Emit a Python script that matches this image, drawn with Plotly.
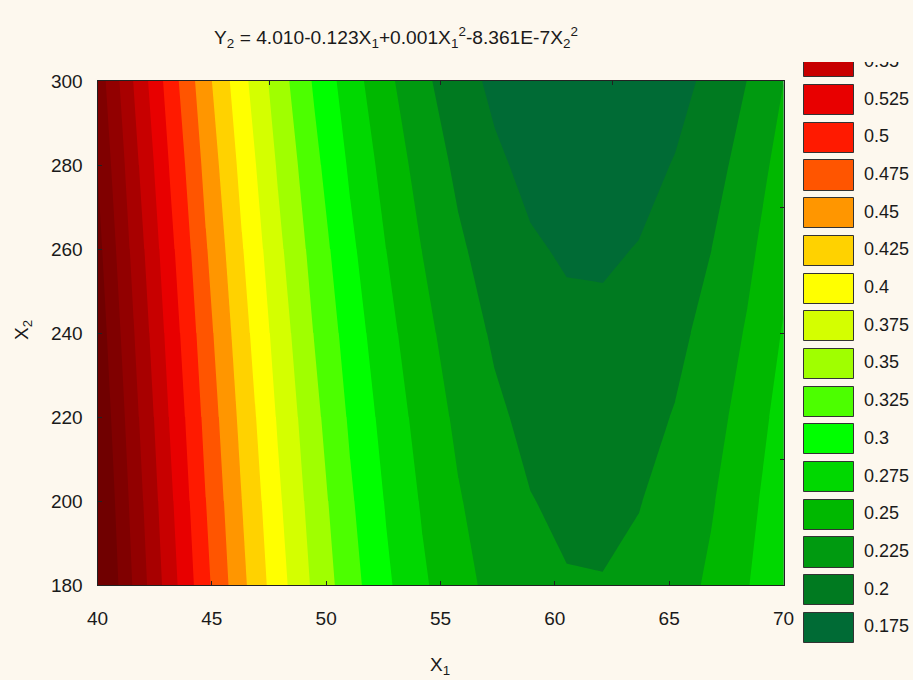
import plotly.graph_objects as go

# ---- data ----
# grid nodes of the fitted surface (the contour kinks sit on these X1 lines)
x1_values = [40, 41.579, 43.158, 44.737, 46.316, 47.895, 49.474, 51.053, 52.632, 54.211,
             55.789, 57.368, 58.947, 60.526, 62.105, 63.684, 65.263, 66.842, 68.421, 70]
x2_values = [180, 200, 220, 240, 260, 280, 300]
# z (Y2) estimated on the grid, one row per X2 value
z_values = [
    [0.6629, 0.5975, 0.5371, 0.4817, 0.4312, 0.3858, 0.3453, 0.3098, 0.2793, 0.2538,
     0.2333, 0.2177, 0.2072, 0.2016, 0.2010, 0.2054, 0.2148, 0.2292, 0.2486, 0.2729],
    [0.6566, 0.5912, 0.5307, 0.4753, 0.4249, 0.3794, 0.3389, 0.3035, 0.2730, 0.2474,
     0.2269, 0.2114, 0.2008, 0.1953, 0.1947, 0.1991, 0.2085, 0.2228, 0.2422, 0.2666],
    [0.6495, 0.5841, 0.5237, 0.4683, 0.4178, 0.3724, 0.3319, 0.2964, 0.2659, 0.2404,
     0.2199, 0.2044, 0.1938, 0.1882, 0.1876, 0.1921, 0.2014, 0.2158, 0.2352, 0.2595],
    [0.6418, 0.5764, 0.5160, 0.4606, 0.4101, 0.3647, 0.3242, 0.2887, 0.2582, 0.2327,
     0.2122, 0.1967, 0.1861, 0.1805, 0.1800, 0.1844, 0.1938, 0.2081, 0.2275, 0.2518],
    [0.6335, 0.5681, 0.5077, 0.4522, 0.4018, 0.3563, 0.3159, 0.2804, 0.2499, 0.2244,
     0.2038, 0.1883, 0.1778, 0.1722, 0.1716, 0.1760, 0.1854, 0.1998, 0.2191, 0.2435],
    [0.6245, 0.5590, 0.4986, 0.4432, 0.3928, 0.3473, 0.3068, 0.2713, 0.2408, 0.2153,
     0.1948, 0.1793, 0.1687, 0.1632, 0.1626, 0.1670, 0.1764, 0.1907, 0.2101, 0.2345],
    [0.6148, 0.5493, 0.4889, 0.4335, 0.3831, 0.3376, 0.2971, 0.2616, 0.2311, 0.2056,
     0.1851, 0.1696, 0.1590, 0.1535, 0.1529, 0.1573, 0.1667, 0.1810, 0.2004, 0.2248],
]
level_start = 0.175
level_end = 0.625
level_step = 0.025
# colour of each band, lowest first (<0.175 ... >0.625)
band_colors = [
    "#006b35", "#007a20", "#009a10", "#00b800", "#00d800", "#00ff00",
    "#4cff00", "#a0ff00", "#d4ff00", "#ffff00", "#ffd200", "#ff9600",
    "#ff5500", "#ff1a00", "#e80000", "#c80000", "#a80000", "#920000",
    "#800000", "#700000",
]
legend_labels = ["0.175", "0.2", "0.225", "0.25", "0.275", "0.3", "0.325", "0.35",
                 "0.375", "0.4", "0.425", "0.45", "0.475", "0.5", "0.525", "0.55"]
x_ticks = [40, 45, 50, 55, 60, 65, 70]
y_ticks = [180, 200, 220, 240, 260, 280, 300]
x_top_ticks = [40, 47.5, 55, 62.5, 70]
y_right_ticks = [180, 210, 240, 270, 300]

W, H = 913, 680
BG = "#fdf8ee"
FONT = "Liberation Sans, Arial, sans-serif"
TXT = "#1a1a1a"

nb = len(band_colors)
colorscale = [[i / (nb - 1), c] for i, c in enumerate(band_colors)]

fig = go.Figure()
fig.add_trace(go.Contour(
    x=x1_values, y=x2_values, z=z_values,
    autocontour=False,
    contours=dict(start=level_start, end=level_end, size=level_step,
                  coloring="fill", showlines=False),
    colorscale=colorscale, showscale=False,
    line=dict(width=0, smoothing=0), hoverinfo="skip",
))
# invisible trace to carry the top / right tick axes
fig.add_trace(go.Scatter(x=[x1_values[0], x1_values[-1]], y=[x2_values[0], x2_values[-1]],
                         mode="markers", marker=dict(size=1, opacity=0),
                         xaxis="x3", yaxis="y3", hoverinfo="skip", showlegend=False))

legend_idx = list(range(len(legend_labels)))
legend_colors = band_colors[:len(legend_labels)]
fig.add_trace(go.Bar(
    x=[1] * len(legend_idx), y=legend_idx, base=0, orientation="h", width=0.8,
    marker=dict(color=legend_colors, line=dict(color="#333333", width=1)),
    xaxis="x2", yaxis="y2", hoverinfo="skip", showlegend=False,
))
fig.add_trace(go.Scatter(
    x=[1.2] * len(legend_idx), y=legend_idx, mode="text", text=legend_labels,
    textposition="middle right", textfont=dict(family=FONT, size=18, color=TXT),
    cliponaxis=True, xaxis="x2", yaxis="y2", hoverinfo="skip", showlegend=False,
))


def px(v):
    return v / W


def py(v):
    return 1 - v / H


xdom = [px(97.5), px(783.5)]
ydom = [py(585), py(81)]

axis_common = dict(showgrid=False, zeroline=False, ticks="inside", ticklen=4,
                   tickcolor="#222", tickwidth=1, automargin=False,
                   tickfont=dict(family=FONT, size=19, color=TXT))

fig.update_layout(
    template="none",
    width=W, height=H, margin=dict(l=0, r=0, t=0, b=0, pad=0),
    paper_bgcolor=BG, plot_bgcolor=BG, showlegend=False,
    xaxis=dict(domain=xdom, range=[40, 70], tickvals=x_ticks, showline=True,
               linecolor="#222", linewidth=1, mirror=True, anchor="y",
               ticklabelstandoff=16, **axis_common),
    yaxis=dict(domain=ydom, range=[180, 300], tickvals=y_ticks, showline=True,
               linecolor="#222", linewidth=1, mirror=True, anchor="x",
               ticklabelstandoff=10, **axis_common),
    xaxis3=dict(domain=xdom, range=[40, 70], tickvals=x_top_ticks, side="top",
                overlaying="x", anchor="y3", showticklabels=False, showgrid=False,
                zeroline=False, ticks="inside", ticklen=4, tickcolor="#222",
                showline=False, automargin=False),
    yaxis3=dict(domain=ydom, range=[180, 300], tickvals=y_right_ticks, side="right",
                overlaying="y", anchor="x3", showticklabels=False, showgrid=False,
                zeroline=False, ticks="inside", ticklen=4, tickcolor="#222",
                showline=False, automargin=False),
    xaxis2=dict(domain=[px(795), 1.0], range=[-(804 - 795) / 50, (913 - 804) / 50],
                visible=False, fixedrange=True),
    yaxis2=dict(domain=[py(650.5), py(62)], range=[-0.6, 15.01], visible=False,
                fixedrange=True),
    bargap=0,
    annotations=[
        dict(text="Y<sub>2</sub> = 4.010-0.123X<sub>1</sub>+0.001X<sub>1</sub><sup>2</sup>-8.361E-7X<sub>2</sub><sup>2</sup>",
             x=px(396), y=py(37), xref="paper", yref="paper", showarrow=False,
             xanchor="center", yanchor="middle", font=dict(family=FONT, size=19.2, color=TXT)),
        dict(text="X<sub>1</sub>", x=px(440), y=py(666), xref="paper", yref="paper",
             showarrow=False, xanchor="center", yanchor="middle",
             font=dict(family=FONT, size=19, color=TXT)),
        dict(text="X<sub>2</sub>", x=px(23), y=py(330), xref="paper", yref="paper",
             showarrow=False, xanchor="center", yanchor="middle", textangle=-90,
             font=dict(family=FONT, size=19, color=TXT)),
    ],
)

fig.write_html(
    "out.html",
    config={"displayModeBar": False},
    post_script=("document.documentElement.style.margin='0';"
                 "document.body.style.margin='0';"
                 "document.body.style.background='" + BG + "';"
                 "document.documentElement.style.overflow='hidden';"),
)
